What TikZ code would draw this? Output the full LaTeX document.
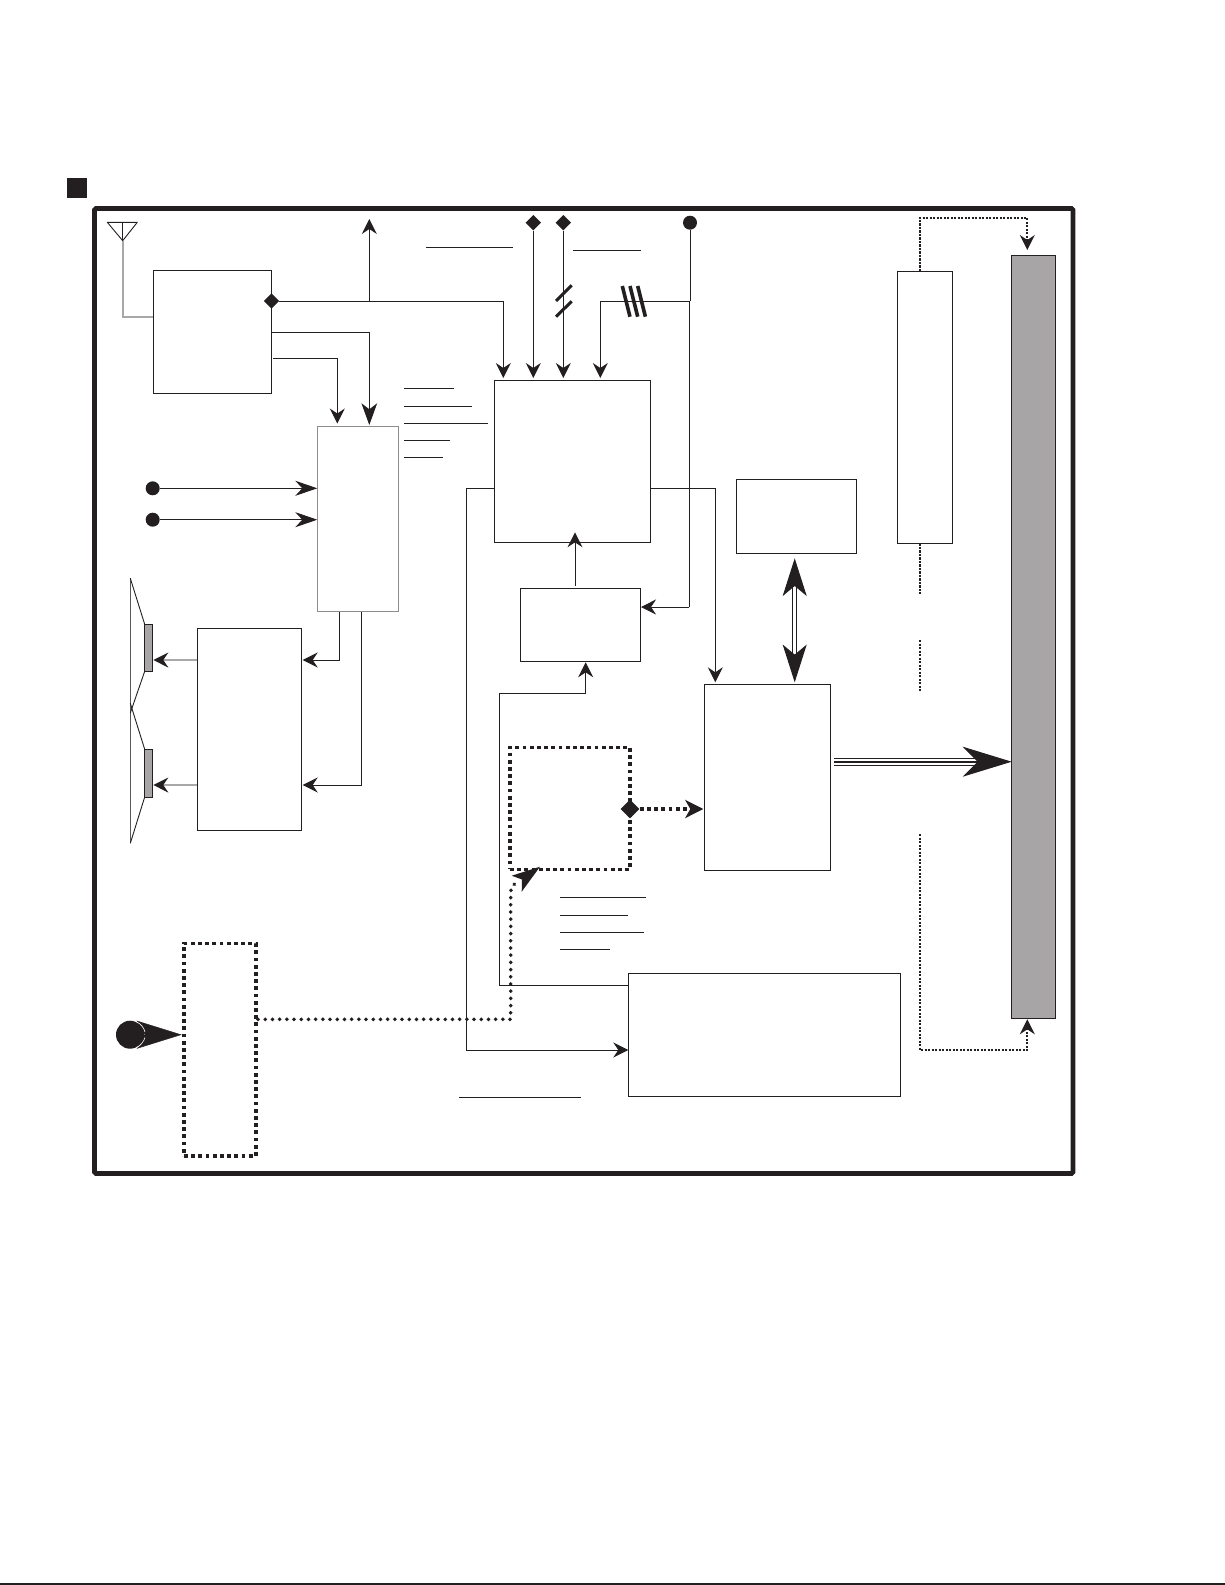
\documentclass[tikz,border=0pt]{standalone}
\usetikzlibrary{arrows.meta,shapes.geometric}

\definecolor{inkblk}{HTML}{231F20}
\definecolor{barfill}{HTML}{A7A5A6}
\definecolor{wiregray}{HTML}{A9A8A8}
\definecolor{edgegray}{HTML}{8E8D8D}

\tikzset{
    blk/.style={draw=inkblk, line width=1pt, inner sep=0pt, outer sep=0pt},
    grayblk/.style={blk, draw=edgegray, line width=1.2pt},
    dotblk/.style={blk, line width=3.6pt, dash pattern=on 3.8pt off 3.4pt},
    magnet/.style={blk, fill=barfill},
    diam/.style={diamond, fill=inkblk, inner sep=0pt, minimum size=15.5pt},
    spot/.style={circle, fill=inkblk, inner sep=0pt, minimum size=14pt},
    wire/.style={draw=inkblk, line width=1pt},
    sarr/.style={wire, -{Stealth[length=15pt, width=15pt, inset=5pt, color=inkblk, fill=inkblk]}},
    larr/.style={wire, -{Stealth[length=22pt, width=15pt, inset=7pt, color=inkblk, fill=inkblk]}},
    grayarr/.style={draw=wiregray, line width=1.6pt, -{Stealth[length=15pt, width=15pt, inset=5pt, color=inkblk, fill=inkblk]}},
    dashln/.style={draw=inkblk, line width=1.7pt, dash pattern=on 2.2pt off 1.3pt},
    dasharr/.style={dashln, -{Stealth[length=15pt, width=15pt, inset=5pt, color=inkblk, fill=inkblk]}},
    beadln/.style={draw=inkblk, line width=3.9pt, line cap=round, dash pattern=on 0.1pt off 7.1pt},
    ruling/.style={draw=inkblk, line width=1pt},
    slash/.style={draw=inkblk, line width=3pt},
    barmark/.style={draw=inkblk, line width=3.6pt},
}

\begin{document}
\begin{tikzpicture}[x=1pt, y=-1pt]
    \useasboundingbox (0,0) rectangle (1225,1585);

    % Page rule, title mark and frame
    \draw[inkblk, line width=1.5pt] (0,1584) -- (1225,1584);
    \node[fill=inkblk, inner sep=0pt, minimum size=20pt] (mark) at (77,188) {};
    \draw[inkblk, line width=4.8pt, rounded corners=1.5pt] (94.5,208.5) rectangle (1073,1173.5);

    % Blocks
    \node[blk, minimum width=118.2pt, minimum height=123.3pt] (tuner) at (212.4,331.65) {};
    \node[grayblk, minimum width=81pt, minimum height=184.8pt] (audio) at (357.8,519.1) {};
    \node[blk, minimum width=104.4pt, minimum height=201.7pt] (amp) at (249.5,729.15) {};
    \node[blk, minimum width=156pt, minimum height=161.7pt] (micom) at (572.3,461.15) {};
    \node[blk, minimum width=120pt, minimum height=73pt] (reset) at (580.3,624.8) {};
    \node[blk, minimum width=120.4pt, minimum height=74.3pt] (memory) at (796.5,516.15) {};
    \node[blk, minimum width=126pt, minimum height=185.7pt] (driver) at (767.3,777.15) {};
    \node[blk, minimum width=272.2pt, minimum height=122.7pt] (panel) at (764.4,1034.65) {};
    \node[blk, minimum width=55.4pt, minimum height=272.3pt] (tall) at (925,407.15) {};
    \node[blk, fill=barfill, minimum width=44.4pt, minimum height=763pt] (bar) at (1033.5,636.8) {};
    \node[dotblk, minimum width=120pt, minimum height=122pt] (option) at (570,808.3) {};
    \node[dotblk, minimum width=71.7pt, minimum height=212.7pt] (remote) at (219.85,1049.65) {};

    % Antenna
    \coordinate (antl) at (107.3,222.3);
    \coordinate (antr) at (137.3,222.3);
    \coordinate (antm) at (122.7,222.3);
    \coordinate (anta) at (122.7,240.7);
    \coordinate (antb) at (122.7,316.7);
    \draw[inkblk, line width=0.9pt, line join=round] (antl) -- (antr) -- (anta) -- cycle;
    \draw[inkblk, line width=0.9pt] (antm) -- (anta);
    \draw[wiregray, line width=1.6pt] (anta) -- (antb) -- (tuner.west |- antb);

    % Tuner outputs
    \node[diam] (tdia) at (271.5,301) {};
    \coordinate (tap) at (369.3,301);
    \coordinate (tapend) at (369.3,219);
    \coordinate (mic1) at (503.3,378);
    \draw[sarr] (tap) -- (tapend);
    \draw[sarr] (tdia) -| (mic1);
    \coordinate (ta) at (271.5,332.3);
    \coordinate (tb) at (273,358.3);
    \coordinate (aud1) at (369.3,425);
    \coordinate (aud2) at (337.3,423.5);
    \draw[wire, -{Stealth[length=21.7pt, width=15.7pt, inset=6pt, color=inkblk, fill=inkblk]}] (ta) -| (aud1);
    \draw[sarr] (tb) -| (aud2);

    % Inputs of the audio block
    \node[spot] (ina) at (152.7,488.3) {};
    \node[spot] (inb) at (152.7,519.7) {};
    \draw[larr] (ina) -- (audio.west |- ina);
    \draw[larr] (inb) -- (audio.west |- inb);

    % Audio block to amplifier
    \coordinate (aoa) at (339.6,611.5);
    \coordinate (aob) at (361.8,611.5);
    \coordinate (ampa) at (302.7,660);
    \coordinate (ampb) at (302.7,785);
    \draw[sarr] (aoa) |- (ampa);
    \draw[sarr] (aob) |- (ampb);

    % Speakers
    \node[magnet, minimum width=8pt, minimum height=47pt] (spka) at (148.7,647.8) {};
    \node[magnet, minimum width=8pt, minimum height=47.7pt] (spkb) at (148.7,773.15) {};
    \coordinate (cona) at (153.3,660);
    \coordinate (conb) at (153.3,785);
    \draw[grayarr] (amp.west |- ampa) -- (cona);
    \draw[grayarr] (amp.west |- ampb) -- (conb);
    \draw[inkblk!75, line width=0.9pt] (130.3,578.3) -- (130.3,843.3);
    \draw[inkblk, line width=0.9pt] (130.3,578.3) -- (spka.north west);
    \draw[inkblk, line width=0.9pt] (spka.south west) -- (130.3,713);
    \draw[inkblk, line width=0.9pt] (130.3,703.3) -- (spkb.north west);
    \draw[inkblk, line width=0.9pt] (spkb.south west) -- (130.3,843.3);

    % Inputs on top of the controller
    \node[diam] (topa) at (533.3,222.7) {};
    \node[diam] (topb) at (563.3,222.7) {};
    \node[spot] (topc) at (690,222.7) {};
    \coordinate (mic2) at (533.3,378);
    \coordinate (mic3) at (563.3,378);
    \coordinate (mic4) at (600.3,378);
    \coordinate (busc) at (690,301);
    \draw[sarr] (topa) -- (mic2);
    \draw[sarr] (topb) -- (mic3);
    \draw[wire] (topc) -- (busc);
    \draw[sarr] (busc) -| (mic4);

    % Bus marks
    \draw[slash] (556,301) -- (571.7,285.3);
    \draw[slash] (556,316.7) -- (571.7,301.3);
    \draw[barmark] (622.3,286) -- (630,316.7);
    \draw[barmark] (630,286) -- (637.7,316.7);
    \draw[barmark] (637.7,286) -- (645.4,316.7);

    % Controller wiring
    \coordinate (drop) at (689.3,607);
    \coordinate (rsta) at (641,607);
    \draw[wire] (689.3,301) -- (drop);
    \draw[sarr] (drop) -- (rsta);
    \coordinate (rstb) at (575,585.7);
    \coordinate (mica) at (575,532.3);
    \draw[sarr] (rstb) -- (mica);
    \coordinate (micr) at (650.3,488.3);
    \coordinate (drva) at (715.3,682.3);
    \draw[sarr] (micr) -| (drva);
    \coordinate (micl) at (494.3,488.3);
    \coordinate (lefta) at (466.7,488.3);
    \coordinate (leftb) at (466.7,1050);
    \coordinate (pana) at (628.3,1050);
    \draw[sarr] (micl) -- (lefta) -- (leftb) -- (pana);
    \coordinate (panb) at (628.3,985.3);
    \coordinate (backa) at (499.5,985.3);
    \coordinate (backb) at (499.5,693.3);
    \coordinate (rstc) at (585.7,662.3);
    \draw[sarr] (panb) -- (backa) -- (backb) -| (rstc);

    % Memory and display buses
    \coordinate (busa) at (794.7,558.3);
    \coordinate (busb) at (794.7,682.3);
    \draw[draw=inkblk, line width=1pt, double=white, double distance=3.4pt,
        {Stealth[length=37.7pt, width=24pt, inset=10pt, color=inkblk, fill=inkblk]}-{Stealth[length=37.7pt, width=24pt, inset=10pt, color=inkblk, fill=inkblk]}] (busa) -- (busb);
    \coordinate (outa) at (834,761.7);
    \coordinate (outb) at (1011.7,761.7);
    \draw[draw=inkblk, line width=1pt, double=white, double distance=5.6pt,
        -{Stealth[length=49pt, width=30pt, inset=15pt, color=inkblk, fill=inkblk]}] (outa) -- (outb);
    \draw[inkblk, line width=1.8pt, shorten >=30pt] (outa) -- (outb);

    % Dotted option block
    \node[diam, minimum size=19pt] (odia) at (630,809) {};
    \coordinate (drvb) at (703.3,809);
    \draw[dotblk, fill=none, -{Stealth[length=18pt, width=18pt, inset=5pt, color=inkblk, fill=inkblk]}] (odia) -- (drvb);

    % Remote sensor
    \node[circle, fill=inkblk, inner sep=0pt, minimum size=28pt] (eye) at (130,1034.7) {};
    \coordinate (eyetip) at (181.7,1034.7);
    \draw[inkblk, -{Stealth[length=45pt, width=28pt, inset=8pt, color=inkblk, fill=inkblk]}] (eye.center) -- (eyetip);
    \draw[white, line width=0.6pt] (137,1022) .. controls (141,1024) and (144,1028) .. (145,1032);
    \draw[white, line width=0.6pt] (145,1037.5) .. controls (144,1041) and (141,1045) .. (137,1047.5);

    % Remote signal to the option block
    \coordinate (rema) at (258,1019.3);
    \coordinate (remb) at (510.7,1019.3);
    \coordinate (remc) at (510.7,893);
    \coordinate (optin) at (540,866.7);
    \draw[beadln] (rema) -- (remb) -- (remc) .. controls (510.7,886) and (513,884) .. (520,881);
    \draw[fill=inkblk, draw=none] (optin) -- (511.7,875.7) -- (522,879.5) -- (521.7,891.7) -- cycle;

    % Dotted wires to the right bar
    \coordinate (tallt) at (920,271);
    \coordinate (dota) at (920,217.7);
    \coordinate (dotb) at (1027.3,217.7);
    \coordinate (bart) at (1027.3,250);
    \draw[dasharr] (tallt) -- (dota) -- (dotb) -- (bart);
    \coordinate (dotc) at (920,834);
    \coordinate (dotd) at (920,1050);
    \coordinate (dote) at (1027.3,1050);
    \coordinate (barb) at (1027.3,1019.3);
    \draw[dasharr] (dotc) -- (dotd) -- (dote) -- (barb);
    \draw[dashln] (tall.south -| tallt) -- (920,594.3);
    \draw[dashln] (920,640) -- (920,691.7);

    % Label rulings
    \draw[ruling] (426,247.3) -- (512.7,247.3);
    \draw[ruling] (573,250.3) -- (640.7,250.3);
    \draw[ruling] (404,388.3) -- (454,388.3);
    \draw[ruling] (404,406) -- (472,406);
    \draw[ruling] (404,423.3) -- (488,423.3);
    \draw[ruling] (404,440.3) -- (450,440.3);
    \draw[ruling] (404,457) -- (443,457);
    \draw[ruling] (560,897.3) -- (645.7,897.3);
    \draw[ruling] (560,915) -- (627.7,915);
    \draw[ruling] (560,932.3) -- (643.7,932.3);
    \draw[ruling] (560,949.3) -- (610,949.3);
    \draw[ruling] (459,1097) -- (581,1097);

\end{tikzpicture}
\end{document}
